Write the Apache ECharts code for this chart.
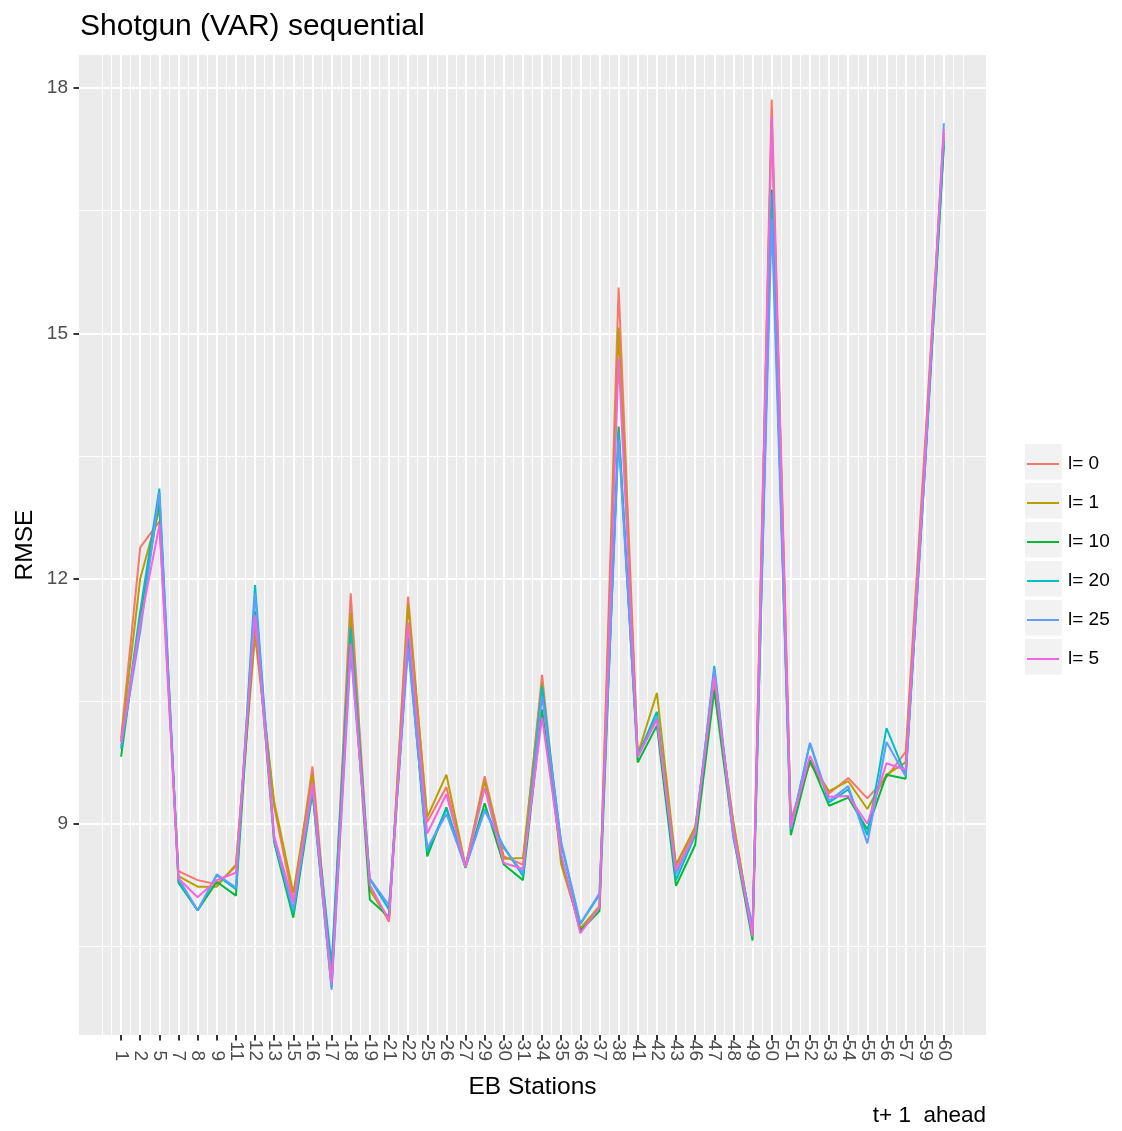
<!DOCTYPE html>
<html>
<head>
<meta charset="utf-8">
<script src="https://cdn.jsdelivr.net/npm/echarts@6/dist/echarts.min.js"></script>
<style>
html,body{margin:0;padding:0;background:#fff;}
#chart{width:1122px;height:1131px;}
</style>
</head>
<body>
<div id="chart"></div>
<script>
// ---------- data ----------
const stations = ['1','2','5','7','8','9','11','12','13','15','16','17','18','19','21','22','25','26','27','29','30','31','34','35','36','37','38','41','42','43','46','47','48','49','50','51','52','53','54','55','56','57','59','60'];
const seriesNames = ['l= 0','l= 1','l= 10','l= 20','l= 25','l= 5'];
const l0  = [10.05,12.38,12.70,8.42,8.31,8.26,8.48,11.45,9.20,8.05,9.70,7.10,11.82,8.22,7.80,11.78,9.02,9.45,8.47,9.58,8.60,8.50,10.82,8.58,7.70,7.97,15.56,9.85,10.30,8.48,8.93,10.72,9.00,7.65,17.86,9.05,9.74,9.37,9.56,9.31,9.57,9.88,13.60,17.45];
const l1  = [10.00,12.00,12.85,8.36,8.23,8.23,8.50,11.30,9.27,8.15,9.60,7.05,11.58,8.19,7.82,11.68,9.08,9.60,8.48,9.52,8.57,8.58,10.72,8.50,7.72,7.99,15.07,9.85,10.60,8.50,8.96,10.70,9.02,7.63,17.60,9.00,9.76,9.40,9.52,9.18,9.60,9.75,13.50,17.40];
const l10 = [9.82,11.55,12.95,8.28,7.94,8.29,8.12,11.60,8.77,7.85,9.38,7.00,11.33,8.07,7.86,11.25,8.60,9.20,8.46,9.25,8.50,8.31,10.40,8.60,7.69,7.93,13.86,9.75,10.20,8.24,8.74,10.63,8.85,7.57,16.76,8.86,9.78,9.22,9.32,8.93,9.60,9.55,13.30,17.30];
const l20 = [9.92,11.60,13.10,8.30,7.94,8.37,8.20,11.92,8.82,7.90,9.45,7.28,11.40,8.32,7.95,11.28,8.66,9.18,8.48,9.18,8.72,8.36,10.68,8.75,7.77,8.13,13.80,9.83,10.37,8.31,8.86,10.93,8.88,7.70,16.72,8.95,9.98,9.26,9.42,8.86,10.17,9.60,13.35,17.35];
const l25 = [9.95,11.35,13.05,8.33,7.94,8.38,8.22,11.82,8.80,7.95,9.42,6.97,11.10,8.33,8.00,11.15,8.70,9.12,8.47,9.16,8.70,8.40,10.56,8.78,7.78,8.15,13.70,9.82,10.30,8.38,8.90,10.90,8.82,7.75,16.40,8.93,9.99,9.28,9.46,8.76,10.00,9.58,13.30,17.57];
const l5  = [10.00,11.45,12.65,8.33,8.10,8.31,8.40,11.55,8.85,8.03,9.50,7.05,11.20,8.25,7.82,11.46,8.88,9.36,8.47,9.44,8.52,8.45,10.30,8.62,7.66,7.98,14.70,9.82,10.27,8.43,8.88,10.80,8.92,7.62,17.65,8.97,9.83,9.33,9.34,9.00,9.74,9.66,13.45,17.50];
const seriesValues = [l0, l1, l10, l20, l25, l5];
const colors = ['#F8766D','#B79F00','#00BA38','#00BFC4','#619CFF','#F564E3'];
const yMajorTicks = [9, 12, 15, 18];

// ---------- layout ----------
const P = {l: 79, t: 55, w: 907, h: 980};
const XMIN = -1.2, XMAX = 46.2, YMIN = 6.415, YMAX = 18.405;
const px = k => P.l + (k - XMIN) / (XMAX - XMIN) * P.w;
const py = v => P.t + (YMAX - v) / (YMAX - YMIN) * P.h;
const FONT = '"Liberation Sans", Arial, Helvetica, sans-serif';
const nS = stations.length;

const hidden = {show: false, min: 0, max: 1};

const grids = [
  {left: P.l, top: P.t, width: P.w, height: P.h, show: true, backgroundColor: '#EBEBEB', borderWidth: 0},
  {left: px(0), top: P.t, width: px(nS + 1) - px(0), height: P.h},
  {left: px(1), top: P.t, width: px(nS) - px(1), height: P.h},
  {left: P.l, top: py(18), width: P.w, height: py(9) - py(18)},
  {left: P.l, top: py(16.5), width: P.w, height: py(7.5) - py(16.5)}
];

const xAxes = [
  {type: 'value', gridIndex: 0, min: XMIN, max: XMAX, show: false},
  {type: 'value', gridIndex: 1, min: 0, max: nS + 1, interval: 0.5,
   axisLine: {show: false}, axisTick: {show: false}, axisLabel: {show: false},
   splitLine: {show: true, lineStyle: {color: '#FFFFFF', width: 1}}},
  {type: 'value', gridIndex: 2, min: 1, max: nS, interval: 1,
   axisLine: {show: false, onZero: false},
   axisTick: {show: true, length: 5.5, lineStyle: {color: '#333333', width: 2}},
   axisLabel: {show: true, rotate: -90, align: 'right', verticalAlign: 'middle', margin: 26,
     fontSize: 19, color: '#4D4D4D', fontFamily: FONT,
     formatter: v => stations[Math.round(v) - 1] || ''},
   splitLine: {show: true, lineStyle: {color: '#FFFFFF', width: 2}}},
  Object.assign({type: 'value', gridIndex: 3}, hidden),
  Object.assign({type: 'value', gridIndex: 4}, hidden)
];

const yAxes = [
  {type: 'value', gridIndex: 0, min: YMIN, max: YMAX, show: false},
  Object.assign({type: 'value', gridIndex: 1}, hidden),
  Object.assign({type: 'value', gridIndex: 2}, hidden),
  {type: 'value', gridIndex: 3, min: yMajorTicks[0], max: yMajorTicks[yMajorTicks.length - 1], interval: 3,
   axisLine: {show: false, onZero: false},
   axisTick: {show: true, length: 5.5, lineStyle: {color: '#333333', width: 2}},
   axisLabel: {show: true, margin: 11, fontSize: 19, color: '#4D4D4D', fontFamily: FONT},
   splitLine: {show: true, lineStyle: {color: '#FFFFFF', width: 2}}},
  {type: 'value', gridIndex: 4, min: 7.5, max: 16.5, interval: 3,
   axisLine: {show: false}, axisTick: {show: false}, axisLabel: {show: false},
   splitLine: {show: true, lineStyle: {color: '#FFFFFF', width: 1}}}
];

const series = seriesNames.map((name, si) => ({
  name: name,
  type: 'line',
  xAxisIndex: 0,
  yAxisIndex: 0,
  showSymbol: false,
  symbol: 'none',
  color: colors[si],
  lineStyle: {color: colors[si], width: 2},
  itemStyle: {color: colors[si]},
  emphasis: {disabled: true},
  data: seriesValues[si].map((v, i) => [i + 1, v])
}));

// legend key backgrounds
const keyTop = 444, legendStep = 39;
const keyRects = seriesNames.map((n, i) => ({
  type: 'rect', silent: true, z: -1,
  shape: {x: 1025, y: keyTop + legendStep * i, width: 36.7, height: 35.5},
  style: {fill: '#F2F2F2'}
}));

const graphics = keyRects.concat([
  {type: 'text', left: 80, top: 12, silent: true,
   style: {text: 'Shotgun (VAR) sequential', font: '30px ' + FONT, fill: '#000000'}},
  {type: 'text', x: 25, y: P.t + P.h / 2, rotation: Math.PI / 2, silent: true,
   style: {text: 'RMSE', font: '24.5px ' + FONT, fill: '#000000', align: 'center', verticalAlign: 'middle'}},
  {type: 'text', x: P.l + P.w / 2, y: 1087, silent: true,
   style: {text: 'EB Stations', font: '24.5px ' + FONT, fill: '#000000', align: 'center', verticalAlign: 'middle'}},
  {type: 'text', x: 986, y: 1116, silent: true,
   style: {text: 't+ 1  ahead', font: '22.5px ' + FONT, fill: '#000000', align: 'right', verticalAlign: 'middle'}}
]);

const chart = echarts.init(document.getElementById('chart'), null, {renderer: 'canvas'});
chart.setOption({
  animation: false,
  backgroundColor: '#FFFFFF',
  grid: grids,
  xAxis: xAxes,
  yAxis: yAxes,
  legend: {
    orient: 'vertical', left: 1027, top: keyTop + 2, padding: 0,
    itemWidth: 32, itemHeight: 2, itemGap: legendStep - 36,
    icon: 'rect', selectedMode: false,
    textStyle: {fontSize: 19, color: '#000000', fontFamily: FONT, lineHeight: 36, padding: [0, 0, 0, 4]},
    data: seriesNames
  },
  series: series,
  graphic: graphics
});
</script>
</body>
</html>
